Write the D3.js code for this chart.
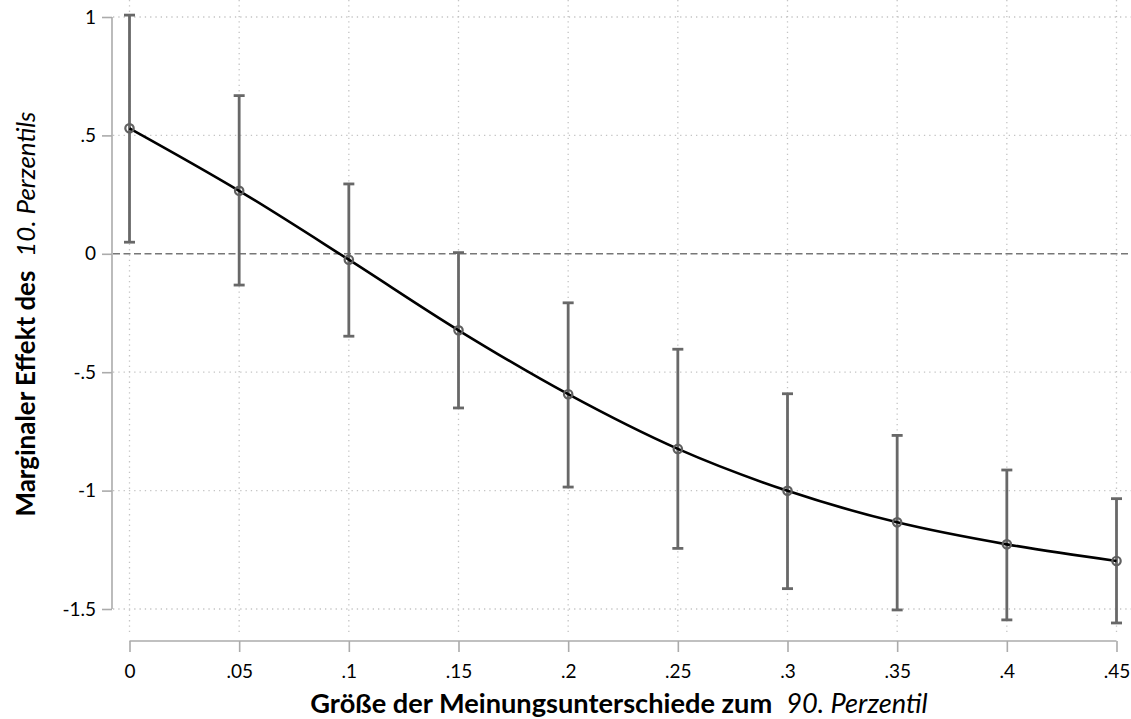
<!DOCTYPE html>
<html>
<head>
<meta charset="utf-8">
<script src="https://cdn.jsdelivr.net/npm/d3@7"></script>
<style>
  html, body { margin: 0; padding: 0; background: #fff; }
  svg { display: block; }
  text { font-family: Lato, "Open Sans", sans-serif; fill: #000; }
</style>
</head>
<body>
<svg id="chart" width="1131" height="719"></svg>
<script>
// ---- data ----
const xValues = [0, 0.05, 0.1, 0.15, 0.2, 0.25, 0.3, 0.35, 0.4, 0.45];
const effect  = [0.530, 0.266, -0.025, -0.323, -0.593, -0.824, -1.001, -1.134, -1.227, -1.297];
const ciUpper = [1.008, 0.668, 0.295, 0.005, -0.207, -0.403, -0.591, -0.767, -0.913, -1.034];
const ciLower = [0.049, -0.132, -0.348, -0.651, -0.985, -1.244, -1.414, -1.504, -1.546, -1.559];
const xTicks = [0, 0.05, 0.1, 0.15, 0.2, 0.25, 0.3, 0.35, 0.4, 0.45];
const xTickLabels = ["0", ".05", ".1", ".15", ".2", ".25", ".3", ".35", ".4", ".45"];
const yTicks = [1, 0.5, 0, -0.5, -1, -1.5];
const yTickLabels = ["1", ".5", "0", "-.5", "-1", "-1.5"];
const yTitleBold = "Marginaler Effekt des";
const yTitleItalic = "10. Perzentils";
const xTitleBold = "Größe der Meinungsunterschiede zum";
const xTitleItalic = "90. Perzentil";

const svg = d3.select("#chart");
const W = 1131, H = 719;

const x = d3.scaleLinear().domain([0, 0.45]).range([129.5, 1116.5]);
const y = d3.scaleLinear().domain([-1.5, 1]).range([609, 17]);

svg.append("rect").attr("width", W).attr("height", H).attr("fill", "#fff");

const data = xValues.map((v, i) => ({x: v, y: effect[i], lo: ciLower[i], hi: ciUpper[i]}));

// ---- grid ----
const grid = svg.append("g");
grid.selectAll("line.h").data(yTicks.filter(d => d !== 0)).join("line")
  .attr("x1", 113).attr("x2", W)
  .attr("y1", d => y(d)).attr("y2", d => y(d))
  .attr("stroke", "#c4c4c4").attr("stroke-width", 1.3)
  .attr("stroke-dasharray", "1.3,4");
grid.selectAll("line.v").data(xTicks).join("line")
  .attr("x1", d => x(d)).attr("x2", d => x(d))
  .attr("y1", 0).attr("y2", 636)
  .attr("stroke", "#c4c4c4").attr("stroke-width", 1.3)
  .attr("stroke-dasharray", "1.3,4");

// zero reference line
svg.append("line")
  .attr("x1", 113).attr("x2", W)
  .attr("y1", y(0)).attr("y2", y(0))
  .attr("stroke", "#777").attr("stroke-width", 1.6)
  .attr("stroke-dasharray", "7,3.5");

// ---- axes ----
const yAxis = d3.axisLeft(y).tickValues(yTicks)
  .tickFormat((d, i) => yTickLabels[i]).tickSize(10).tickPadding(6);
const gy = svg.append("g").attr("transform", "translate(112,0)").call(yAxis);
gy.select(".domain").attr("stroke", "#ababab").attr("stroke-width", 1.6).attr("d", `M0,${y(1)}V${y(-1.5)}`);
gy.selectAll(".tick line").attr("stroke", "#ababab").attr("stroke-width", 1.6);
gy.selectAll(".tick text").style("font-size", "19px").style("font-family", "Lato, sans-serif").attr("fill", "#000");

const xAxis = d3.axisBottom(x).tickValues(xTicks)
  .tickFormat((d, i) => xTickLabels[i]).tickSize(11).tickPadding(13);
const gx = svg.append("g").attr("transform", "translate(0,641)").call(xAxis);
gx.select(".domain").attr("stroke", "#ababab").attr("stroke-width", 1.6).attr("d", `M${x(0)},0H${x(0.45)}`);
gx.selectAll(".tick line").attr("stroke", "#ababab").attr("stroke-width", 1.6);
gx.selectAll(".tick text").style("font-size", "19px").style("font-family", "Lato, sans-serif").attr("fill", "#000");

// ---- error bars ----
const eb = svg.append("g");
eb.selectAll("line.bar").data(data).join("line")
  .attr("x1", d => x(d.x)).attr("x2", d => x(d.x))
  .attr("y1", d => y(d.hi)).attr("y2", d => y(d.lo))
  .attr("stroke", "#686868").attr("stroke-width", 2.8);
eb.selectAll("line.capt").data(data).join("line")
  .attr("x1", d => x(d.x) - 5.5).attr("x2", d => x(d.x) + 5.5)
  .attr("y1", d => y(d.hi)).attr("y2", d => y(d.hi))
  .attr("stroke", "#686868").attr("stroke-width", 2.8);
eb.selectAll("line.capb").data(data).join("line")
  .attr("x1", d => x(d.x) - 5.5).attr("x2", d => x(d.x) + 5.5)
  .attr("y1", d => y(d.lo)).attr("y2", d => y(d.lo))
  .attr("stroke", "#686868").attr("stroke-width", 2.8);

// ---- line ----
const line = d3.line().x(d => x(d.x)).y(d => y(d.y)).curve(d3.curveMonotoneX);
svg.append("path").datum(data).attr("d", line)
  .attr("fill", "none").attr("stroke", "#000").attr("stroke-width", 2.6);

// ---- markers ----
svg.append("g").selectAll("circle").data(data).join("circle")
  .attr("cx", d => x(d.x)).attr("cy", d => y(d.y)).attr("r", 4.2)
  .attr("fill", "none").attr("stroke", "#606060").attr("stroke-width", 2.2);

// ---- titles ----
function fitTitle(g, bold, italic, boldW, gap) {
  const tb = g.append("text").attr("font-weight", "bold").style("font-size", "20px").text(bold);
  const ti = g.append("text").attr("font-style", "italic").style("font-size", "20px").text(italic);
  const wb = tb.node().getComputedTextLength();
  const fs = 20 * boldW / wb;
  tb.style("font-size", fs + "px");
  ti.style("font-size", fs + "px");
  const wb2 = tb.node().getComputedTextLength();
  const wi2 = ti.node().getComputedTextLength();
  const total = wb2 + gap + wi2;
  tb.attr("x", -total / 2);
  ti.attr("x", -total / 2 + wb2 + gap);
}
const gxt = svg.append("g").attr("transform", `translate(${(x(0) + x(0.45)) / 2 - 4},713)`);
fitTitle(gxt, xTitleBold, xTitleItalic, 462, 14);

const gyt = svg.append("g").attr("transform", `translate(35,${(y(1) + y(-1.5)) / 2 + 1}) rotate(-90)`);
fitTitle(gyt, yTitleBold, yTitleItalic, 246, 14);
</script>
</body>
</html>
